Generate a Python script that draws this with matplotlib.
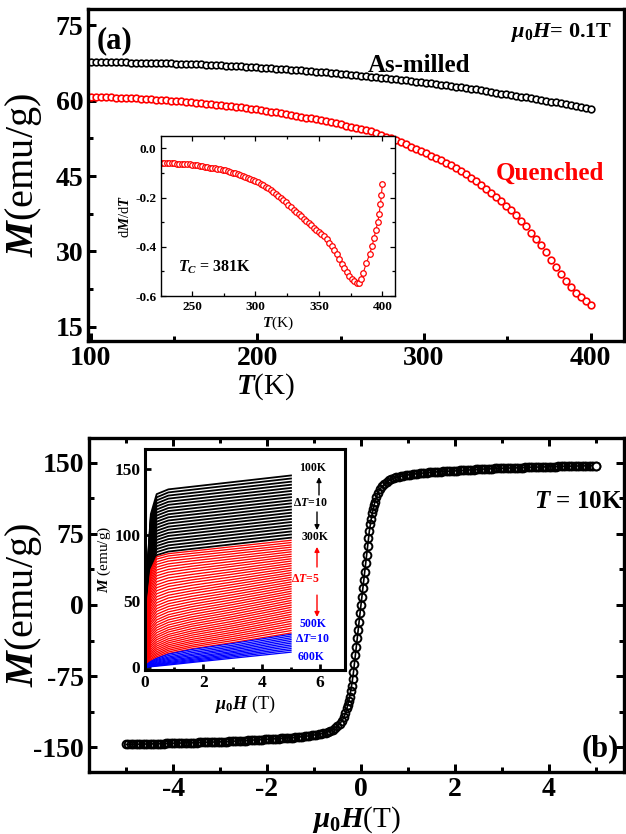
import matplotlib
matplotlib.use('Agg')
import matplotlib.pyplot as plt
from matplotlib.ticker import MultipleLocator, FormatStrFormatter

plt.rcParams['font.family'] = ['Liberation Serif', 'DejaVu Serif']
plt.rcParams['font.weight'] = 'bold'
plt.rcParams['mathtext.fontset'] = 'custom'
plt.rcParams['mathtext.rm'] = 'Liberation Serif:bold'
plt.rcParams['mathtext.it'] = 'Liberation Serif:italic:bold'
plt.rcParams['mathtext.bf'] = 'Liberation Serif:bold'
plt.rcParams['axes.unicode_minus'] = False

# ---------------- Panel (a): M(T) at 0.1 T ----------------
T_a = [100, 103, 106, 109, 112, 115, 118, 121, 124, 127,
       130, 133, 136, 139, 142, 145, 148, 151, 154, 157,
       160, 163, 166, 169, 172, 175, 178, 181, 184, 187,
       190, 193, 196, 199, 202, 205, 208, 211, 214, 217,
       220, 223, 226, 229, 232, 235, 238, 241, 244, 247,
       250, 253, 256, 259, 262, 265, 268, 271, 274, 277,
       280, 283, 286, 289, 292, 295, 298, 301, 304, 307,
       310, 313, 316, 319, 322, 325, 328, 331, 334, 337,
       340, 343, 346, 349, 352, 355, 358, 361, 364, 367,
       370, 373, 376, 379, 382, 385, 388, 391, 394, 397, 400]
M_asmilled = [67.6, 67.6, 67.6, 67.6, 67.6, 67.6, 67.6, 67.6, 67.5, 67.5,
              67.5, 67.5, 67.5, 67.4, 67.4, 67.4, 67.4, 67.3, 67.3, 67.3,
              67.2, 67.2, 67.2, 67.1, 67.1, 67.0, 67.0, 66.9, 66.9, 66.8,
              66.8, 66.7, 66.7, 66.6, 66.5, 66.5, 66.4, 66.3, 66.3, 66.2,
              66.1, 66.1, 66.0, 65.9, 65.8, 65.7, 65.7, 65.6, 65.5, 65.4,
              65.3, 65.2, 65.1, 65.0, 64.9, 64.8, 64.7, 64.6, 64.5, 64.4,
              64.3, 64.2, 64.1, 64.0, 63.8, 63.7, 63.6, 63.5, 63.4, 63.2,
              63.1, 63.0, 62.8, 62.7, 62.6, 62.4, 62.3, 62.2, 62.0, 61.9,
              61.7, 61.6, 61.4, 61.3, 61.1, 61.0, 60.8, 60.7, 60.5, 60.3,
              60.2, 60.0, 59.8, 59.7, 59.5, 59.3, 59.1, 59.0, 58.8, 58.6, 58.4]
M_quenched = [60.8, 60.8, 60.7, 60.7, 60.7, 60.6, 60.6, 60.6, 60.5, 60.5,
              60.4, 60.4, 60.3, 60.2, 60.2, 60.1, 60.0, 59.9, 59.9, 59.8,
              59.7, 59.6, 59.5, 59.4, 59.3, 59.2, 59.1, 59.0, 58.9, 58.8,
              58.7, 58.6, 58.4, 58.3, 58.1, 58.0, 57.8, 57.7, 57.5, 57.4,
              57.2, 57.0, 56.8, 56.6, 56.5, 56.3, 56.1, 55.9, 55.7, 55.5,
              55.3, 55.0, 54.8, 54.6, 54.4, 54.1, 53.9, 53.5, 53.2, 52.8,
              52.5, 52.1, 51.7, 51.3, 50.8, 50.4, 49.9, 49.5, 49.0, 48.5,
              48.1, 47.6, 47.1, 46.5, 46.0, 45.4, 44.7, 44.0, 43.3, 42.5,
              41.7, 40.9, 40.0, 39.1, 38.2, 37.2, 36.1, 35.0, 33.7, 32.5,
              31.2, 29.8, 28.3, 26.9, 25.5, 24.2, 23.0, 21.8, 21.0, 20.1, 19.3]

# inset (a): dM/dT of quenched sample
T_d = [226, 228, 230, 232, 234, 236, 238, 240, 242, 244, 246, 248, 250,
       252, 254, 256, 258, 260, 262, 264, 266, 268, 270, 272, 274, 276,
       278, 280, 282, 284, 286, 288, 290, 292, 294, 296, 298, 300, 302,
       304, 306, 308, 310, 312, 314, 316, 318, 320, 322, 324, 326, 328,
       330, 332, 334, 336, 338, 340, 342, 344, 346, 348, 350, 352, 354,
       356, 358, 360, 362, 364, 366, 368, 370, 372, 374, 376, 378, 380,
       382, 383.5, 385, 387.5, 390, 392, 393.5, 395, 396.5, 397.5, 398.5,
       399.3, 400]
dMdT = [-0.058, -0.058, -0.059, -0.060, -0.060, -0.061, -0.062, -0.062,
        -0.063, -0.064, -0.065, -0.065, -0.066, -0.068, -0.069, -0.071,
        -0.072, -0.074, -0.076, -0.078, -0.080, -0.082, -0.084, -0.086,
        -0.088, -0.090, -0.093, -0.096, -0.099, -0.102, -0.105, -0.108,
        -0.112, -0.116, -0.120, -0.124, -0.128, -0.133, -0.138, -0.144,
        -0.150, -0.157, -0.163, -0.170, -0.178, -0.186, -0.194, -0.202,
        -0.211, -0.219, -0.229, -0.239, -0.249, -0.259, -0.268, -0.277,
        -0.286, -0.295, -0.304, -0.313, -0.322, -0.331, -0.340, -0.348,
        -0.358, -0.370, -0.383, -0.398, -0.414, -0.431, -0.449, -0.468,
        -0.487, -0.503, -0.517, -0.529, -0.539, -0.546,
        -0.548, -0.530, -0.505, -0.465, -0.430, -0.397, -0.363, -0.330,
        -0.298, -0.265, -0.228, -0.190, -0.146]

# ---------------- Panel (b): M(H) at 10 K ----------------
H_neg = [-5.0, -4.95, -4.9, -4.85, -4.8, -4.75, -4.7, -4.65, -4.6, -4.55,
         -4.5, -4.45, -4.4, -4.35, -4.3, -4.25, -4.2, -4.15, -4.1, -4.05,
         -4.0, -3.95, -3.9, -3.85, -3.8, -3.75, -3.7, -3.65, -3.6, -3.55,
         -3.5, -3.45, -3.4, -3.35, -3.3, -3.25, -3.2, -3.15, -3.1, -3.05,
         -3.0, -2.95, -2.9, -2.85, -2.8, -2.75, -2.7, -2.65, -2.6, -2.55,
         -2.5, -2.45, -2.4, -2.35, -2.3, -2.25, -2.2, -2.15, -2.1, -2.05,
         -2.0, -1.95, -1.9, -1.85, -1.8, -1.75, -1.7, -1.65, -1.6, -1.55,
         -1.5, -1.45, -1.4, -1.35, -1.3, -1.25, -1.2, -1.15, -1.1, -1.05,
         -1.0, -0.95, -0.9, -0.85, -0.8, -0.75, -0.7, -0.65, -0.6, -0.55,
         -0.5, -0.45, -0.4, -0.36, -0.33, -0.3, -0.28, -0.26, -0.24, -0.22,
         -0.2, -0.18, -0.16, -0.14, -0.12, -0.1, -0.08, -0.06, -0.04, -0.02, 0.0]
M_neg = [-147.0, -146.95, -146.9, -146.85, -146.8, -146.75, -146.65, -146.6, -146.5, -146.45,
         -146.4, -146.35, -146.25, -146.2, -146.1, -146.05, -146.0, -145.95, -145.85, -145.8,
         -145.7, -145.65, -145.55, -145.5, -145.4, -145.35, -145.3, -145.25, -145.15, -145.1,
         -145.0, -144.9, -144.8, -144.75, -144.65, -144.6, -144.5, -144.45, -144.35, -144.3,
         -144.2, -144.1, -144.0, -143.9, -143.75, -143.6, -143.5, -143.4, -143.25, -143.1,
         -143.0, -142.85, -142.7, -142.55, -142.4, -142.25, -142.1, -141.95, -141.8, -141.65,
         -141.5, -141.35, -141.2, -141.05, -140.9, -140.75, -140.6, -140.45, -140.3, -140.15,
         -140.0, -139.75, -139.5, -139.25, -139.0, -138.75, -138.5, -138.15, -137.8, -137.4,
         -137.0, -136.7, -136.3, -135.7, -135.0, -134.5, -133.8, -132.7, -131.3, -129.5,
         -127.5, -125.0, -121.8, -118.0, -114.0, -109.0, -105.0, -101.0, -96.5, -91.0,
         -85.0, -78.5, -71.0, -62.0, -53.0, -44.0, -35.0, -26.5, -17.5, -8.8, 0.0]
H_pos = [0.02, 0.04, 0.06, 0.08, 0.1, 0.12, 0.14, 0.16, 0.18, 0.2,
         0.22, 0.24, 0.26, 0.28, 0.3, 0.33, 0.36, 0.4, 0.45, 0.5,
         0.55, 0.6, 0.65, 0.7, 0.75, 0.8, 0.85, 0.9, 0.95, 1.0,
         1.05, 1.1, 1.15, 1.2, 1.25, 1.3, 1.35, 1.4, 1.45, 1.5,
         1.55, 1.6, 1.65, 1.7, 1.75, 1.8, 1.85, 1.9, 1.95, 2.0,
         2.05, 2.1, 2.15, 2.2, 2.25, 2.3, 2.35, 2.4, 2.45, 2.5,
         2.55, 2.6, 2.65, 2.7, 2.75, 2.8, 2.85, 2.9, 2.95, 3.0,
         3.05, 3.1, 3.15, 3.2, 3.25, 3.3, 3.35, 3.4, 3.45, 3.5,
         3.55, 3.6, 3.65, 3.7, 3.75, 3.8, 3.85, 3.9, 3.95, 4.0,
         4.05, 4.1, 4.15, 4.2, 4.25, 4.3, 4.35, 4.4, 4.45, 4.5,
         4.55, 4.6, 4.65, 4.7, 4.75, 4.8, 4.85, 4.9, 4.95, 5.0]
M_pos = [8.8, 17.5, 26.5, 35.0, 44.0, 53.0, 62.0, 71.0, 78.5, 85.0,
         91.0, 96.5, 101.0, 105.0, 109.0, 114.0, 118.0, 121.8, 125.0, 127.5,
         129.5, 131.3, 132.7, 133.8, 134.5, 135.0, 135.7, 136.3, 136.7, 137.0,
         137.4, 137.8, 138.15, 138.5, 138.75, 139.0, 139.25, 139.5, 139.75, 140.0,
         140.15, 140.3, 140.45, 140.6, 140.75, 140.9, 141.05, 141.2, 141.35, 141.5,
         141.65, 141.8, 141.95, 142.1, 142.25, 142.4, 142.55, 142.7, 142.85, 143.0,
         143.1, 143.25, 143.4, 143.5, 143.6, 143.75, 143.9, 144.0, 144.1, 144.2,
         144.3, 144.35, 144.45, 144.5, 144.6, 144.65, 144.75, 144.8, 144.9, 145.0,
         145.1, 145.15, 145.25, 145.3, 145.35, 145.4, 145.5, 145.55, 145.65, 145.7,
         145.8, 145.85, 145.95, 146.0, 146.05, 146.1, 146.2, 146.25, 146.35, 146.4,
         146.45, 146.5, 146.6, 146.65, 146.75, 146.8, 146.85, 146.9, 146.95, 147.0]

# inset (b): M(H) isotherms
H_iso = [0, 0.05, 0.1, 0.2, 0.4, 0.8, 1.6, 3.0, 5.0]
T_black = [100, 110, 120, 130, 140, 150, 160, 170, 180, 190, 200,
           210, 220, 230, 240, 250, 260, 270, 280, 290, 300]
M_black = [
    [0, 46.5, 82.4, 115.8, 130.9, 134.5, 136.5, 140.0, 145.0],
    [0, 45.7, 80.9, 113.7, 128.5, 132.2, 134.2, 137.7, 142.7],
    [0, 44.9, 79.5, 111.7, 126.2, 129.8, 131.8, 135.3, 140.3],
    [0, 44.0, 78.0, 109.6, 123.9, 127.5, 129.5, 133.0, 138.0],
    [0, 43.2, 76.6, 107.6, 121.6, 125.1, 127.1, 130.6, 135.6],
    [0, 42.4, 75.1, 105.5, 119.3, 122.8, 124.8, 128.3, 133.3],
    [0, 41.6, 73.7, 103.5, 117.0, 120.4, 122.4, 125.9, 130.9],
    [0, 40.7, 72.2, 101.5, 114.7, 118.1, 120.1, 123.6, 128.6],
    [0, 39.9, 70.7, 99.4, 112.4, 115.7, 117.7, 121.2, 126.2],
    [0, 39.1, 69.3, 97.4, 110.1, 113.4, 115.4, 118.9, 123.9],
    [0, 38.3, 67.8, 95.3, 107.8, 111.0, 113.0, 116.5, 121.5],
    [0, 37.5, 66.4, 93.3, 105.5, 108.7, 110.7, 114.2, 119.2],
    [0, 36.6, 64.9, 91.2, 103.2, 106.3, 108.3, 111.8, 116.8],
    [0, 35.8, 63.5, 89.2, 100.9, 104.0, 106.0, 109.5, 114.5],
    [0, 35.0, 62.0, 87.2, 98.6, 101.6, 103.6, 107.1, 112.1],
    [0, 34.2, 60.5, 85.1, 96.3, 99.3, 101.3, 104.8, 109.8],
    [0, 33.3, 59.1, 83.1, 94.0, 96.9, 98.9, 102.4, 107.4],
    [0, 32.5, 57.6, 81.0, 91.7, 94.6, 96.6, 100.1, 105.1],
    [0, 31.7, 56.2, 79.0, 89.4, 92.2, 94.2, 97.7, 102.7],
    [0, 30.9, 54.7, 76.9, 87.1, 89.9, 91.9, 95.4, 100.4],
    [0, 30.0, 53.3, 74.9, 84.8, 87.5, 89.5, 93.0, 98.0],
]
T_red = [300, 305, 310, 315, 320, 325, 330, 335, 340, 345, 350, 355, 360, 365,
         370, 375, 380, 385, 390, 395, 400, 405, 410, 415, 420, 425, 430, 435,
         440, 445, 450, 455, 460, 465, 470, 475, 480, 485, 490, 495, 500]
M_red = [
    [0, 29.8, 52.3, 73.9, 83.5, 85.9, 87.8, 91.2, 96.0],
    [0, 29.1, 51.2, 72.4, 81.8, 84.2, 86.1, 89.4, 94.3],
    [0, 28.4, 49.9, 70.7, 79.8, 82.3, 84.3, 87.6, 92.5],
    [0, 27.7, 48.6, 68.8, 77.8, 80.3, 82.3, 85.8, 90.8],
    [0, 26.9, 47.3, 66.8, 75.7, 78.2, 80.4, 83.9, 89.0],
    [0, 26.1, 45.9, 64.9, 73.6, 76.2, 78.4, 82.0, 87.3],
    [0, 25.3, 44.5, 62.9, 71.4, 74.0, 76.4, 80.1, 85.5],
    [0, 24.5, 43.0, 60.9, 69.2, 71.9, 74.4, 78.1, 83.8],
    [0, 23.6, 41.5, 58.8, 67.0, 69.8, 72.3, 76.3, 82.0],
    [0, 22.7, 40.0, 56.7, 64.7, 67.6, 70.2, 74.2, 80.3],
    [0, 21.9, 38.5, 54.6, 62.4, 65.4, 68.1, 72.3, 78.5],
    [0, 21.0, 37.0, 52.6, 60.2, 63.2, 66.1, 70.4, 76.8],
    [0, 20.2, 35.6, 50.5, 57.9, 61.1, 64.1, 68.4, 75.0],
    [0, 19.3, 34.1, 48.4, 55.6, 58.8, 62.0, 66.4, 73.3],
    [0, 18.4, 32.5, 46.3, 53.3, 56.7, 59.8, 64.5, 71.5],
    [0, 17.6, 31.0, 44.2, 51.1, 54.5, 57.8, 62.6, 69.8],
    [0, 16.8, 29.6, 42.2, 48.8, 52.4, 55.8, 60.7, 68.0],
    [0, 16.0, 28.2, 40.2, 46.6, 50.2, 53.7, 58.7, 66.3],
    [0, 15.2, 26.7, 38.2, 44.4, 48.1, 51.7, 56.8, 64.5],
    [0, 14.3, 25.3, 36.2, 42.3, 46.0, 49.7, 54.9, 62.8],
    [0, 13.5, 23.9, 34.2, 40.1, 43.9, 47.7, 53.0, 61.0],
    [0, 12.7, 22.5, 32.4, 38.0, 41.9, 45.8, 51.1, 59.3],
    [0, 12.0, 21.2, 30.4, 35.9, 39.8, 43.8, 49.2, 57.5],
    [0, 11.2, 19.8, 28.6, 33.9, 37.9, 41.9, 47.4, 55.8],
    [0, 10.5, 18.5, 26.8, 31.9, 35.9, 40.0, 45.5, 54.0],
    [0, 9.8, 17.2, 25.0, 30.0, 34.0, 38.1, 43.7, 52.3],
    [0, 9.0, 16.0, 23.3, 28.1, 32.1, 36.3, 41.9, 50.5],
    [0, 8.3, 14.8, 21.6, 26.2, 30.2, 34.5, 40.1, 48.8],
    [0, 7.7, 13.6, 19.9, 24.3, 28.4, 32.7, 38.3, 47.0],
    [0, 7.1, 12.5, 18.4, 22.6, 26.7, 31.0, 36.6, 45.3],
    [0, 6.4, 11.4, 16.8, 20.9, 24.9, 29.2, 34.8, 43.5],
    [0, 5.8, 10.4, 15.4, 19.2, 23.3, 27.5, 33.1, 41.8],
    [0, 5.2, 9.4, 13.9, 17.6, 21.6, 25.9, 31.4, 40.0],
    [0, 4.7, 8.4, 12.5, 16.1, 20.0, 24.3, 29.8, 38.3],
    [0, 4.2, 7.4, 11.2, 14.6, 18.5, 22.7, 28.1, 36.5],
    [0, 3.6, 6.6, 10.0, 13.2, 17.0, 21.1, 26.5, 34.8],
    [0, 3.2, 5.7, 8.8, 11.8, 15.6, 19.6, 24.9, 33.0],
    [0, 2.8, 4.9, 7.7, 10.5, 14.2, 18.2, 23.3, 31.3],
    [0, 2.3, 4.2, 6.6, 9.3, 12.9, 16.7, 21.7, 29.5],
    [0, 1.9, 3.5, 5.6, 8.1, 11.6, 15.4, 20.2, 27.8],
    [0, 1.6, 2.9, 4.7, 7.0, 10.4, 14.0, 18.7, 26.0],
]
T_blue = [500, 510, 520, 530, 540, 550, 560, 570, 580, 590, 600]
M_blue = [
    [0, 1.5, 2.8, 4.5, 6.8, 10.0, 13.5, 18.0, 25.0],
    [0, 1.3, 2.4, 3.9, 5.9, 8.9, 12.3, 16.7, 23.7],
    [0, 1.1, 2.1, 3.4, 5.2, 7.8, 11.1, 15.5, 22.3],
    [0, 0.9, 1.7, 2.9, 4.5, 6.9, 9.9, 14.3, 21.0],
    [0, 0.8, 1.5, 2.4, 3.8, 6.0, 8.9, 13.2, 19.6],
    [0, 0.6, 1.2, 2.0, 3.2, 5.1, 7.8, 12.0, 18.3],
    [0, 0.5, 0.9, 1.6, 2.6, 4.3, 6.9, 11.0, 16.9],
    [0, 0.4, 0.7, 1.3, 2.1, 3.6, 6.0, 9.9, 15.6],
    [0, 0.3, 0.5, 1.0, 1.7, 3.0, 5.2, 8.9, 14.2],
    [0, 0.2, 0.4, 0.7, 1.3, 2.4, 4.4, 7.9, 12.9],
    [0, 0.1, 0.2, 0.5, 0.9, 1.8, 3.7, 6.9, 11.5],
]


def style(ax, lw, maj, mnr, size, top=True, right=True, left=True, bottom=True):
    for s in ax.spines.values():
        s.set_linewidth(lw)
    ax.tick_params(which='both', direction='in', top=top, right=right,
                   left=left, bottom=bottom, width=lw * 0.9, labelsize=size)
    ax.tick_params(which='major', length=maj)
    ax.tick_params(which='minor', length=mnr)


W, H = 626, 834
fig = plt.figure(figsize=(W / 100, H / 100), dpi=100)


def axes_px(l, t, r, b):
    return fig.add_axes([l / W, 1 - b / H, (r - l) / W, (b - t) / H])


# ----- panel (a) -----
axa = axes_px(88, 9, 624, 341)
axa.plot(T_a, M_asmilled, 'o', ms=4.8, mfc='white', mec='black', mew=1.2)
axa.plot(T_a, M_quenched, 'o', ms=4.8, mfc='white', mec='red', mew=1.2)
axa.set_xlim(98.5, 420)
axa.set_ylim(12.2, 78.2)
axa.xaxis.set_major_locator(MultipleLocator(100))
axa.xaxis.set_minor_locator(MultipleLocator(50))
axa.yaxis.set_major_locator(MultipleLocator(15))
axa.yaxis.set_minor_locator(MultipleLocator(7.5))
style(axa, 2.4, 6, 3.5, 20, top=False, right=False)
axa.set_xlabel(r'$T$(K)', fontsize=21, labelpad=2)
axa.xaxis.set_label_coords((266 - 88) / 536, -0.09)
axa.set_ylabel(r'$M$(emu/g)', fontsize=29)
axa.yaxis.set_label_coords(-0.082, 0.5)
axa.text(0.016, 0.905, '(a)', transform=axa.transAxes, fontsize=22,
         ha='left', va='center')
axa.text(0.978, 0.93, r'$\mu_0H$= 0.1T', transform=axa.transAxes,
         fontsize=16, ha='right', va='center')
axa.text(0.618, 0.831, 'As-milled', transform=axa.transAxes, fontsize=18,
         ha='center', va='center', color='black')
axa.text(0.862, 0.506, 'Quenched', transform=axa.transAxes, fontsize=18,
         ha='center', va='center', color='red')

# ----- inset (a) -----
ina = axes_px(161, 136, 395, 296)
ina.set_facecolor('white')
ina.plot(T_d, dMdT, '-o', color='red', lw=0.8, ms=4.0, mfc='white',
         mec='red', mew=0.9)
ina.set_xlim(225.5, 410)
ina.set_ylim(-0.6, 0.05)
ina.xaxis.set_major_locator(MultipleLocator(50))
ina.xaxis.set_minor_locator(MultipleLocator(25))
ina.yaxis.set_major_locator(MultipleLocator(0.2))
ina.yaxis.set_minor_locator(MultipleLocator(0.1))
style(ina, 1.0, 3.5, 2, 9.5)
ina.yaxis.set_major_formatter(FormatStrFormatter('%.1f'))
ina.set_xlabel(r'$T$(K)', fontsize=11, labelpad=1)
ina.set_ylabel(r'd$M$/d$T$', fontsize=10.5, labelpad=2)
ina.text(0.073, 0.18, r'$T_C$ = 381K', transform=ina.transAxes,
         fontsize=11.5, ha='left', va='center')

# ----- panel (b) -----
axb = axes_px(89, 438, 624, 772)
axb.plot(H_neg + H_pos, M_neg + M_pos, '-', color='black', lw=1.2)
axb.plot(H_neg + H_pos, M_neg + M_pos, 'o', ms=5.6, mfc='none',
         mec='black', mew=1.4)
axb.plot(H_pos[-1:], M_pos[-1:], 'o', ms=5.6, mfc='white',
         mec='black', mew=1.4)
axb.set_xlim(-5.79, 5.6)
axb.set_ylim(-176, 176)
axb.xaxis.set_major_locator(MultipleLocator(2))
axb.xaxis.set_minor_locator(MultipleLocator(1))
axb.yaxis.set_major_locator(MultipleLocator(75))
axb.yaxis.set_minor_locator(MultipleLocator(37.5))
style(axb, 2.4, 6, 3.5, 20)
axb.set_xlabel(r'$\mu_0H$(T)', fontsize=21, labelpad=2)
axb.set_ylabel(r'$M$(emu/g)', fontsize=29)
axb.yaxis.set_label_coords(-0.084, 0.5)
axb.text(0.915, 0.81, r'$T$ = 10K', transform=axb.transAxes, fontsize=18,
         ha='center', va='center')
axb.text(0.955, 0.07, '(b)', transform=axb.transAxes, fontsize=22,
         ha='center', va='center')

# ----- inset (b) -----
inb = axes_px(145, 449, 345, 670)
inb.set_facecolor('white')
for row in M_black:
    inb.plot(H_iso, row, color='black', lw=1.3)
for row in M_red:
    inb.plot(H_iso, row, color='red', lw=0.95)
for row in M_blue:
    inb.plot(H_iso, row, color='blue', lw=0.95)
inb.set_xlim(0, 6.85)
inb.set_ylim(-2, 165)
inb.xaxis.set_major_locator(MultipleLocator(2))
inb.xaxis.set_minor_locator(MultipleLocator(1))
inb.yaxis.set_major_locator(MultipleLocator(50))
style(inb, 2.2, 4, 2.5, 12.5, top=False, right=False)
inb.set_xlabel(r'$\mu_0H$ (T)', fontsize=13, labelpad=2)
inb.set_ylabel(r'$M$ (emu/g)', fontsize=11, labelpad=1)

fs = 8.5
inb.text(0.84, 0.914, '100K', transform=inb.transAxes, fontsize=fs,
         ha='center', va='center', color='black')
inb.text(0.825, 0.756, r'$\Delta T$=10', transform=inb.transAxes, fontsize=fs,
         ha='center', va='center', color='black')
inb.text(0.85, 0.602, '300K', transform=inb.transAxes, fontsize=fs,
         ha='center', va='center', color='black')
inb.text(0.80, 0.412, r'$\Delta T$=5', transform=inb.transAxes, fontsize=fs,
         ha='center', va='center', color='red')
inb.text(0.84, 0.208, '500K', transform=inb.transAxes, fontsize=fs,
         ha='center', va='center', color='blue')
inb.text(0.835, 0.14, r'$\Delta T$=10', transform=inb.transAxes, fontsize=fs,
         ha='center', va='center', color='blue')
inb.text(0.83, 0.059, '600K', transform=inb.transAxes, fontsize=fs,
         ha='center', va='center', color='blue')


def arrow(ax, x, y0, y1, color):
    ax.annotate('', xy=(x, y1), xytext=(x, y0), xycoords='axes fraction',
                textcoords='axes fraction',
                arrowprops=dict(arrowstyle='-|>', color=color, lw=1.0,
                                mutation_scale=7, shrinkA=0, shrinkB=0))


arrow(inb, 0.87, 0.792, 0.873, 'black')
arrow(inb, 0.86, 0.715, 0.633, 'black')
arrow(inb, 0.86, 0.466, 0.557, 'red')
arrow(inb, 0.86, 0.339, 0.24, 'red')

fig.savefig('out.png', dpi=100)
